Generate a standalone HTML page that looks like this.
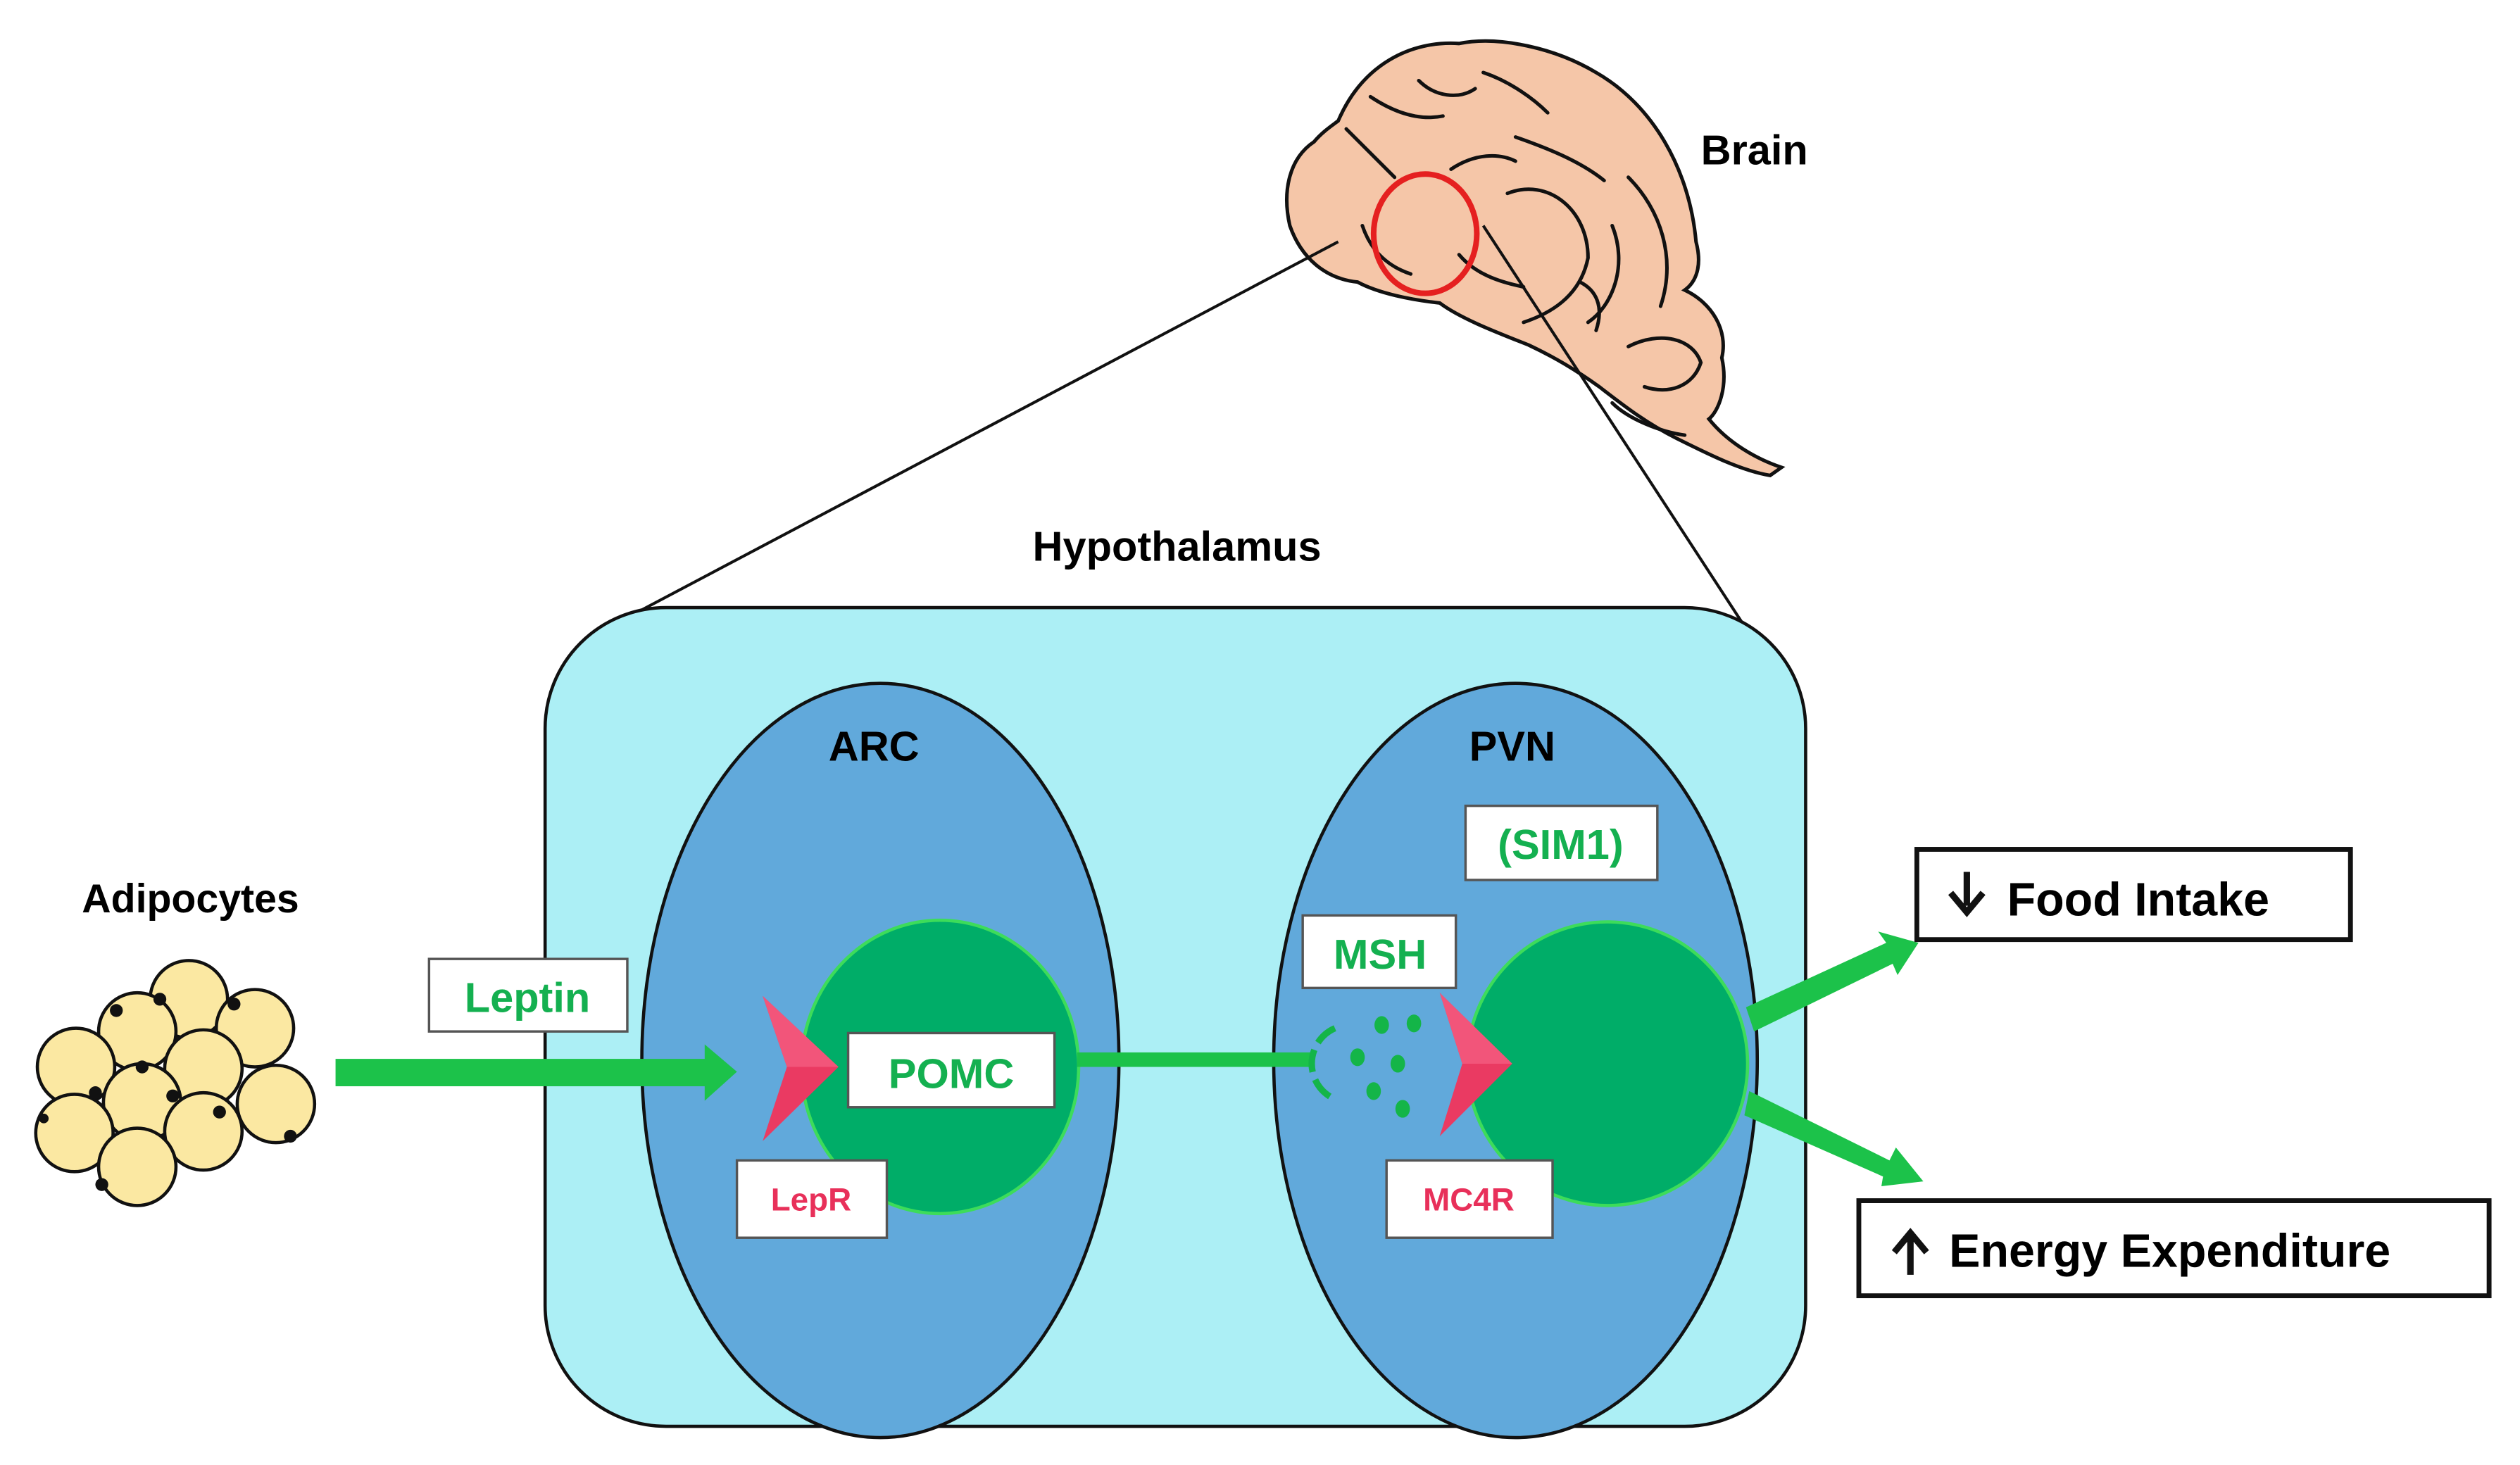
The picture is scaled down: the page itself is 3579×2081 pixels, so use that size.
<!DOCTYPE html>
<html><head><meta charset="utf-8"><style>html,body{margin:0;padding:0;background:#fff}svg{display:block}text{font-family:"Liberation Sans",sans-serif;font-weight:bold}</style></head>
<body>
<svg width="3579" height="2081" viewBox="0 0 1563 909" xmlns="http://www.w3.org/2000/svg">
<rect width="1563" height="909" fill="#fff"/>
<!-- Brain -->
<g stroke="#111" stroke-width="2.2" fill="none" stroke-linecap="round">
<path d="M830,75 C845,40 875,25 905,27 C930,22 965,30 990,45 C1025,65 1048,105 1052,150 C1056,165 1052,175 1045,180 C1062,188 1072,205 1068,222 C1072,240 1066,255 1060,260 C1072,275 1090,285 1105,290 L1098,295 C1080,292 1060,282 1040,272 C1020,262 1005,250 992,240 C978,230 965,222 948,214 C925,205 905,197 893,188 C875,186 855,182 842,175 C822,173 807,160 800,140 C795,118 800,98 815,88 C820,82 826,78 830,75 Z" fill="#f5c6a8"/>
<path d="M835,80 C850,95 860,105 865,110"/><path d="M850,60 C865,70 880,75 895,72"/><path d="M880,50 C890,60 905,62 915,55"/>
<path d="M920,45 C935,50 950,60 960,70"/><path d="M940,85 C960,92 980,100 995,112"/><path d="M900,105 C915,95 930,95 940,100"/>
<path d="M935,120 C960,110 985,130 985,160 C980,185 960,195 945,200"/><path d="M1010,110 C1030,130 1040,160 1030,190"/>
<path d="M1000,140 C1010,165 1000,190 985,200"/><path d="M980,175 C990,180 995,190 990,205"/>
<path d="M1010,215 C1030,205 1050,210 1055,225 C1050,240 1035,245 1020,240"/><path d="M1000,250 C1010,260 1030,268 1045,270"/>
<path d="M845,140 C850,155 860,165 875,170"/><path d="M905,158 C915,170 930,175 945,178"/>
</g>
<ellipse cx="884" cy="145" rx="32" ry="37" fill="none" stroke="#e52020" stroke-width="3.5"/>
<text x="1055" y="102" font-size="26">Brain</text>
<line x1="830" y1="150" x2="395" y2="380" stroke="#111" stroke-width="1.8"/>
<line x1="920" y1="140" x2="1083" y2="390" stroke="#111" stroke-width="1.8"/>
<text x="730" y="348" font-size="26" text-anchor="middle">Hypothalamus</text>
<!-- Hypothalamus box -->
<rect x="338" y="377" width="782" height="508" rx="75" fill="#aceff5" stroke="#111" stroke-width="2"/>
<ellipse cx="546" cy="658" rx="148" ry="234" fill="#61a9db" stroke="#111" stroke-width="2"/>
<ellipse cx="940" cy="658" rx="150" ry="234" fill="#61a9db" stroke="#111" stroke-width="2"/>
<text x="542" y="472" font-size="26" text-anchor="middle">ARC</text>
<text x="938" y="472" font-size="26" text-anchor="middle">PVN</text>
<ellipse cx="583" cy="662" rx="86" ry="91" fill="#00ad68" stroke="#3ddc5a" stroke-width="2"/>
<ellipse cx="997" cy="660" rx="87" ry="88" fill="#00ad68" stroke="#3ddc5a" stroke-width="2"/>
<!-- connection line -->
<rect x="668" y="653" width="146" height="9" fill="#1cc24a"/>
<path d="M828,638 A24,24 0 0,0 828,682" fill="none" stroke="#14b548" stroke-width="4" stroke-dasharray="14,5"/>
<g fill="#14b548"><ellipse cx="857" cy="636" rx="4.5" ry="5.5"/><ellipse cx="877" cy="635" rx="4.5" ry="5.5"/><ellipse cx="842" cy="656" rx="4.5" ry="5.5"/><ellipse cx="867" cy="660" rx="4.5" ry="5.5"/><ellipse cx="852" cy="677" rx="4.5" ry="5.5"/><ellipse cx="870" cy="688" rx="4.5" ry="5.5"/></g>
<!-- red chevrons -->
<path d="M473,618 L520,662 L473,708 L488,662 Z" fill="#ea3a62"/>
<path d="M473,618 L488,662 L520,662 Z" fill="#f2557a"/>
<path d="M893,616 L938,660 L893,705 L907,660 Z" fill="#ea3a62"/>
<path d="M893,616 L907,660 L938,660 Z" fill="#f2557a"/>
<!-- leptin arrow -->
<rect x="208" y="657" width="232" height="17" fill="#1cc24a"/>
<path d="M437,648 L457,665 L437,683 Z" fill="#1cc24a"/>
<!-- output arrows -->
<path d="M1083,625 L1170,585 L1165,578 L1190,585 L1177,605 L1174,598 L1088,640 Z" fill="#1cc24a"/>
<path d="M1085,677 L1172,720 L1176,712 L1193,733 L1167,736 L1168,730 L1082,692 Z" fill="#1cc24a"/>
<!-- labels boxes -->
<g stroke="#555" stroke-width="1.5" fill="#fff">
<rect x="266" y="595" width="123" height="45"/>
<rect x="526" y="641" width="128" height="46"/>
<rect x="457" y="720" width="93" height="48"/>
<rect x="808" y="568" width="95" height="45"/>
<rect x="909" y="500" width="119" height="46"/>
<rect x="860" y="720" width="103" height="48"/>
</g>
<g font-size="26" fill="#14b050" text-anchor="middle">
<text x="327" y="628">Leptin</text>
<text x="590" y="675">POMC</text>
<text x="856" y="601">MSH</text>
<text x="968" y="533">(SIM1)</text>
</g>
<g font-size="20" fill="#e8305a" text-anchor="middle">
<text x="503" y="751">LepR</text>
<text x="911" y="751">MC4R</text>
</g>
<!-- output boxes -->
<rect x="1189" y="527" width="269" height="56" fill="#fff" stroke="#111" stroke-width="3"/>
<path d="M1220,541 L1220,562 M1210,554 L1220,566 L1230,554" stroke="#111" stroke-width="4" fill="none"/>
<text x="1245" y="568" font-size="29">Food Intake</text>
<rect x="1153" y="745" width="391" height="59" fill="#fff" stroke="#111" stroke-width="3"/>
<path d="M1185,791 L1185,768 M1175,777 L1185,765 L1195,777" stroke="#111" stroke-width="4" fill="none"/>
<text x="1209" y="786" font-size="29">Energy Expenditure</text>
<!-- adipocytes -->
<text x="118" y="566" font-size="25" text-anchor="middle">Adipocytes</text>
<g fill="#fbe8a2" stroke="#111" stroke-width="2">
<circle cx="117" cy="620" r="24"/><circle cx="158" cy="638" r="24"/><circle cx="85" cy="640" r="24"/>
<circle cx="47" cy="662" r="24"/><circle cx="126" cy="663" r="24"/><circle cx="171" cy="685" r="24"/>
<circle cx="88" cy="684" r="24"/><circle cx="46" cy="703" r="24"/><circle cx="126" cy="702" r="24"/><circle cx="85" cy="724" r="24"/>
</g>
<g fill="#111"><circle cx="72" cy="627" r="4"/><circle cx="145" cy="623" r="4"/><circle cx="99" cy="620" r="4"/><circle cx="88" cy="662" r="4"/><circle cx="136" cy="690" r="4"/><circle cx="180" cy="705" r="4"/><circle cx="59" cy="678" r="4"/><circle cx="107" cy="680" r="4"/><circle cx="63" cy="735" r="4"/><circle cx="27" cy="694" r="3"/></g>
</svg>
</body></html>
